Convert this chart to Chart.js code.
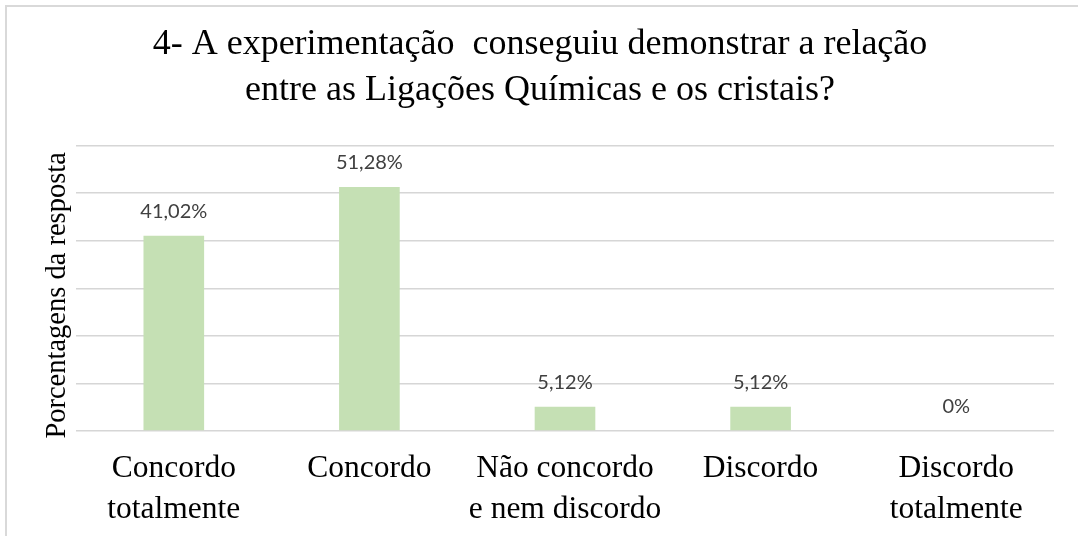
<!DOCTYPE html>
<html>
<head>
<meta charset="utf-8">
<script src="https://cdn.jsdelivr.net/npm/chart.js@4.4.1/dist/chart.umd.min.js"></script>
<style>
  html, body { margin:0; padding:0; background:#fff; overflow:hidden; }
  #frame { position:absolute; left:5px; top:5px; width:1100px; height:560px;
           border:2px solid #d9d9d9; box-sizing:border-box; }
  #wrap { position:absolute; left:0; top:0; width:1078px; height:536px; }
</style>
</head>
<body>
<div id="frame"></div>
<div id="wrap"><canvas id="chart" width="1078" height="536"></canvas></div>
<script>
// ===== Data =====
const TITLE_LINES = ["4- A experimentação  conseguiu demonstrar a relação",
                     "entre as Ligações Químicas e os cristais?"];
const CATEGORIES = [["Concordo","totalmente"], "Concordo", ["Não concordo","e nem discordo"],
                    "Discordo", ["Discordo","totalmente"]];
const VALUES = [41.02, 51.28, 5.12, 5.12, 0];
const Y_TITLE = "Porcentagens da resposta  ";   // trailing spaces nudge it down a bit

const SERIF = "'Liberation Serif','Times New Roman',serif";
const fmtPct = (v) => v.toLocaleString('pt-BR', { maximumFractionDigits: 2 }) + '%';

// data labels above bars
const barLabels = {
  id: 'barLabels',
  afterDatasetsDraw(chart) {
    const ctx = chart.ctx;
    const meta = chart.getDatasetMeta(0);
    ctx.save();
    ctx.font = "20px Lato, 'Open Sans', sans-serif";
    ctx.fillStyle = '#404040';
    ctx.textAlign = 'center';
    ctx.textBaseline = 'alphabetic';
    meta.data.forEach((bar, i) => {
      ctx.fillText(fmtPct(VALUES[i]), bar.x, bar.y - 18);
    });
    ctx.restore();
  }
};

new Chart(document.getElementById('chart'), {
  type: 'bar',
  data: {
    labels: CATEGORIES,
    datasets: [{ data: VALUES, backgroundColor: '#c5e0b4',
                 categoryPercentage: 1, barPercentage: 0.31 }]
  },
  options: {
    responsive: false,
    animation: false,
    layout: { padding: { left: 26, right: 24, top: 0, bottom: 0 } },
    plugins: {
      legend: { display: false },
      tooltip: { enabled: false },
      title: {
        display: true, text: TITLE_LINES, color: '#000',
        font: { family: SERIF, size: 36, weight: 'normal', lineHeight: 46/36 },
        padding: { top: 22, bottom: 31.5 }
      }
    },
    scales: {
      x: {
        grid: { display: false, drawTicks: false },
        border: { display: false },
        ticks: { color: '#000', padding: 17.5, maxRotation: 0, autoSkip: false,
                 font: { family: SERIF, size: 31.5, lineHeight: 41/31.5 } },
        afterFit: (s) => { s.height = 105; }
      },
      y: {
        min: 0, max: 60,
        ticks: { display: false, stepSize: 10 },
        grid: { color: '#d6d6d6', lineWidth: 1.5, drawTicks: false },
        border: { display: false },
        title: { display: true, text: Y_TITLE, color: '#000',
                 font: { family: SERIF, size: 28.5, lineHeight: 1.2 },
                 padding: { top: 14, bottom: 0 } },
        afterFit: (s) => { s.width = 50; }
      }
    }
  },
  plugins: [barLabels]
});
</script>
</body>
</html>
